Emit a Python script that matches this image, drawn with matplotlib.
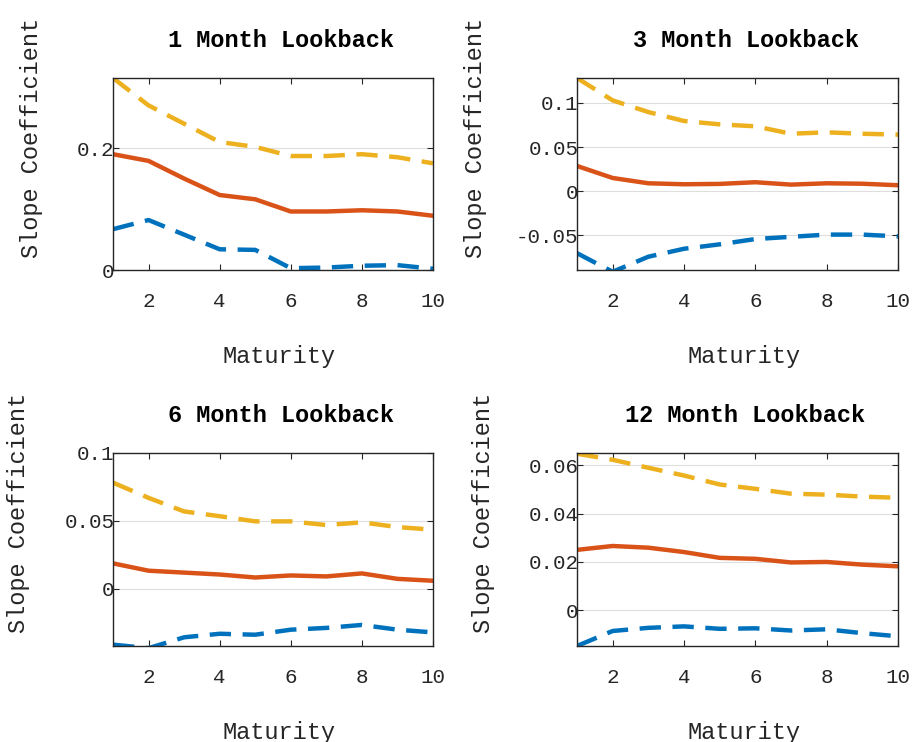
import numpy as np
import matplotlib
matplotlib.use('Agg')
import matplotlib.pyplot as plt

plt.rcParams['font.family'] = ['Liberation Mono', 'DejaVu Sans Mono']

# maturities (x axis)
maturity = np.arange(1, 11)

# 1 month lookback
lo_1m = [0.067, 0.082, 0.058, 0.034, 0.033, 0.003, 0.004, 0.007, 0.008, 0.002]
mid_1m = [0.190, 0.179, 0.150, 0.123, 0.116, 0.096, 0.096, 0.098, 0.096, 0.089]
hi_1m = [0.315, 0.270, 0.240, 0.210, 0.202, 0.187, 0.187, 0.190, 0.185, 0.175]

# 3 month lookback
lo_3m = [-0.070, -0.091, -0.074, -0.065, -0.060, -0.054, -0.0515, -0.049, -0.049, -0.051]
mid_3m = [0.0286, 0.015, 0.009, 0.0079, 0.0083, 0.0102, 0.0075, 0.009, 0.0085, 0.0068]
hi_3m = [0.128, 0.1027, 0.0895, 0.0794, 0.0756, 0.0734, 0.065, 0.0666, 0.065, 0.064]

# 6 month lookback
lo_6m = [-0.041, -0.0436, -0.0356, -0.033, -0.0337, -0.030, -0.0287, -0.0265, -0.030, -0.032]
mid_6m = [0.0188, 0.0134, 0.012, 0.0106, 0.0084, 0.0099, 0.0092, 0.0114, 0.0074, 0.006]
hi_6m = [0.0782, 0.067, 0.057, 0.0535, 0.0497, 0.0497, 0.047, 0.049, 0.0455, 0.0436]

# 12 month lookback
lo_12m = [-0.0147, -0.0085, -0.0072, -0.0066, -0.0076, -0.0074, -0.0083, -0.0078, -0.0094, -0.0107]
mid_12m = [0.025, 0.0266, 0.0259, 0.0241, 0.0217, 0.0213, 0.0198, 0.020, 0.0189, 0.0182]
hi_12m = [0.0647, 0.0622, 0.0589, 0.0557, 0.052, 0.0502, 0.0482, 0.0478, 0.047, 0.0465]

titles = ['1 Month Lookback', '3 Month Lookback', '6 Month Lookback', '12 Month Lookback']
lows = [lo_1m, lo_3m, lo_6m, lo_12m]
mids = [mid_1m, mid_3m, mid_6m, mid_12m]
highs = [hi_1m, hi_3m, hi_6m, hi_12m]
ylims = [(0, 0.315), (-0.089, 0.128), (-0.042, 0.1), (-0.0147, 0.065)]
yticks = [[0, 0.2], [-0.05, 0, 0.05, 0.1], [0, 0.05, 0.1], [0, 0.02, 0.04, 0.06]]
xticks = [2, 4, 6, 8, 10]

# axes boxes in pixels: left, right, top, bottom
W, H = 917, 742
boxes = [(113, 433, 78, 270), (577, 898, 78, 270),
         (113, 433, 453, 646), (577, 898, 453, 646)]
ylab_x = [-0.255, -0.315, -0.295, -0.29]

blue = '#0072BD'
orange = '#D95319'
yellow = '#EDB120'
dark = '#262626'

fig = plt.figure(figsize=(W / 100, H / 100), dpi=100)

for i in range(4):
    l, r, t, b = boxes[i]
    ax = fig.add_axes([l / W, 1 - b / H, (r - l) / W, (b - t) / H])
    ax.plot(maturity, lows[i], color=blue, lw=3.2, ls=(0, (4.8, 2.6)))
    ax.plot(maturity, mids[i], color=orange, lw=3.2)
    ax.plot(maturity, highs[i], color=yellow, lw=3.2, ls=(0, (4.8, 2.6)))
    ax.set_xlim(1, 10)
    ax.set_ylim(*ylims[i])
    ax.set_xticks(xticks)
    ax.set_yticks(yticks[i])
    ax.set_yticklabels(['%g' % v for v in yticks[i]])
    ax.grid(axis='y', color='#dedede', lw=0.8)
    ax.set_axisbelow(True)
    for s in ax.spines.values():
        s.set_color(dark)
        s.set_linewidth(1.0)
    ax.tick_params(direction='in', top=True, right=True, length=4,
                   color=dark, labelcolor=dark, labelsize=15)
    ax.tick_params(axis='x', pad=16)
    ax.tick_params(axis='y', pad=-1)

    ax.set_title(titles[i], fontsize=17, fontweight='bold', x=0.525, y=1.15, va='center')

    ax.set_xlabel('Maturity', fontsize=17, color=dark)
    ax.xaxis.set_label_coords(0.52, -0.45)
    ax.xaxis.label.set_va('center')
    ax.set_ylabel('Slope Coefficient', fontsize=17, color=dark)
    ax.yaxis.set_label_coords(ylab_x[i], 0.69)
    ax.yaxis.label.set_va('center')

fig.savefig('out.png', dpi=100)
